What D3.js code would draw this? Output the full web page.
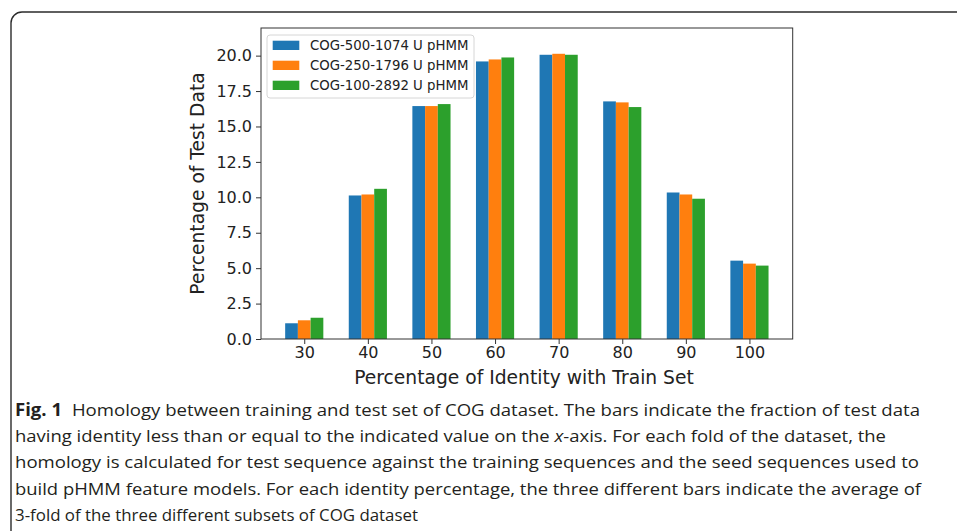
<!DOCTYPE html>
<html>
<head>
<meta charset="utf-8">
<script src="https://cdn.jsdelivr.net/npm/d3@7"></script>
<style>
  body { margin: 0; background: #fff; }
  svg { display: block; }
  .tick text { font-family: "DejaVu Sans", sans-serif; font-size: 16px; fill: #222; }
  .caption { font-family: "Open Sans", sans-serif; font-size: 17px; fill: #231f20; }
</style>
</head>
<body>
<div id="chart"></div>
<script>
// identity thresholds on the x axis
var categories = ["30", "40", "50", "60", "70", "80", "90", "100"]

var seriesNames = ["COG-500-1074 U pHMM", "COG-250-1796 U pHMM", "COG-100-2892 U pHMM"]
var seriesColors = ["#1f77b4", "#ff7f0e", "#2ca02c"]

// percentage of test data
var cog500 = [1.11, 10.13, 16.44, 19.59, 20.06, 16.77, 10.34, 5.53]
var cog250 = [1.32, 10.20, 16.44, 19.73, 20.13, 16.70, 10.20, 5.32]
var cog100 = [1.50, 10.60, 16.58, 19.87, 20.06, 16.37, 9.90, 5.18]

var yTicks = [0, 2.5, 5, 7.5, 10, 12.5, 15, 17.5, 20]

var captionLines = [
  "Homology between training and test set of COG dataset. The bars indicate the fraction of test data",
  "having identity less than or equal to the indicated value on the x-axis. For each fold of the dataset, the",
  "homology is calculated for test sequence against the training sequences and the seed sequences used to",
  "build pHMM feature models. For each identity percentage, the three different bars indicate the average of",
  "3-fold of the three different subsets of COG dataset"
]

var width = 957
var height = 531

// plot box (window.top is reserved, hence the plot_ prefix)
var plot_left = 261, plot_right = 792.7, plot_top = 28, plot_bottom = 339
var barWidth = 0.2

var svg = d3.select("#chart")
            .append("svg")
            .attr("width", width)
            .attr("height", height)

// rounded frame of the figure box
svg.append("rect")
  .attr("x", 11)
  .attr("y", 12)
  .attr("width", 1000)
  .attr("height", 600)
  .attr("rx", 11)
  .attr("fill", "none")
  .attr("stroke", "#2b2b2b")
  .attr("stroke-width", 1.4)

var xscale = d3.scaleLinear()
  .domain([-0.68, categories.length - 1 + 0.68])
  .range([plot_left, plot_right])

var yscale = d3.scaleLinear()
  .domain([0, 21.95])
  .range([plot_bottom, plot_top])

var series = [cog500, cog250, cog100]

// bars, one group per series
series.forEach(function(values, s){
  svg.append("g")
    .selectAll("rect")
    .data(values)
    .enter()
    .append("rect")
    .attr("x", function(d, i){ return xscale(i + (s - 1) * barWidth - barWidth / 2) })
    .attr("width", xscale(barWidth) - xscale(0))
    .attr("y", function(d){ return yscale(d) })
    .attr("height", function(d){ return yscale(0) - yscale(d) })
    .attr("fill", seriesColors[s])
})

// axes
var xaxis = d3.axisBottom(xscale)
  .tickValues(d3.range(categories.length))
  .tickFormat(function(i){ return categories[i] })
  .tickSize(5)
  .tickPadding(2.6)
  .tickSizeOuter(0)

var yaxis = d3.axisLeft(yscale)
  .tickValues(yTicks)
  .tickFormat(d3.format(".1f"))
  .tickSize(5)
  .tickPadding(4)
  .tickSizeOuter(0)

var gx = svg.append("g")
  .attr("transform", "translate(0," + plot_bottom + ")")
  .call(xaxis)

var gy = svg.append("g")
  .attr("transform", "translate(" + plot_left + ",0)")
  .call(yaxis)

gx.select(".domain").remove()
gy.select(".domain").remove()
svg.selectAll(".tick line").attr("stroke", "#333").attr("stroke-width", 1)

// spines
svg.append("rect")
  .attr("x", plot_left)
  .attr("y", plot_top)
  .attr("width", plot_right - plot_left)
  .attr("height", plot_bottom - plot_top)
  .attr("fill", "none")
  .attr("stroke", "#333")
  .attr("stroke-width", 1)

// axis labels
svg.append("text")
  .attr("x", 524)
  .attr("y", 383.5)
  .attr("text-anchor", "middle")
  .style("font-family", "DejaVu Sans, sans-serif")
  .style("font-size", "18.7px")
  .style("fill", "#222")
  .text("Percentage of Identity with Train Set")

svg.append("text")
  .attr("transform", "translate(204," + ((plot_top + plot_bottom) / 2) + ") rotate(-90)")
  .attr("text-anchor", "middle")
  .style("font-family", "DejaVu Sans, sans-serif")
  .style("font-size", "18.7px")
  .style("fill", "#222")
  .text("Percentage of Test Data")

// legend
var legend = svg.append("g")

legend.append("rect")
  .attr("x", 267)
  .attr("y", 35)
  .attr("width", 207)
  .attr("height", 63)
  .attr("rx", 3)
  .attr("fill", "#fff")
  .attr("fill-opacity", 0.8)
  .attr("stroke", "#d6d6d6")

var rows = legend.selectAll("g.row")
  .data(seriesNames)
  .enter()
  .append("g")
  .attr("class", "row")
  .attr("transform", function(d, i){ return "translate(0," + (i * 20) + ")" })

rows.append("rect")
  .attr("x", 272.7)
  .attr("y", 40.7)
  .attr("width", 26.6)
  .attr("height", 9.3)
  .attr("fill", function(d, i){ return seriesColors[i] })

rows.append("text")
  .attr("x", 310)
  .attr("y", 50)
  .style("font-family", "DejaVu Sans, sans-serif")
  .style("font-size", "13.3px")
  .style("fill", "#222")
  .text(function(d){ return d })

// caption
var capX = 15
var capY = [416, 442, 468, 495, 521]
var capEnd = [920, 886, 919, 921, 418]

var cap = svg.append("g").attr("class", "caption")

var first = cap.append("text")
  .attr("x", capX)
  .attr("y", capY[0])
first.append("tspan").style("font-weight", "bold").text("Fig. 1")
first.append("tspan").attr("dx", 9).text(captionLines[0])

var second = cap.append("text")
  .attr("x", capX)
  .attr("y", capY[1])
var parts = captionLines[1].split("x-axis")
second.append("tspan").text(parts[0])
second.append("tspan").style("font-style", "italic").text("x")
second.append("tspan").text("-axis" + parts[1])

captionLines.slice(2).forEach(function(line, i){
  cap.append("text")
    .attr("x", capX)
    .attr("y", capY[i + 2])
    .text(line)
})

// stretch each caption line to its measured width
cap.selectAll("text").each(function(d, i){
  d3.select(this).attr("textLength", capEnd[i] - capX).attr("lengthAdjust", "spacingAndGlyphs")
})
</script>
</body>
</html>
